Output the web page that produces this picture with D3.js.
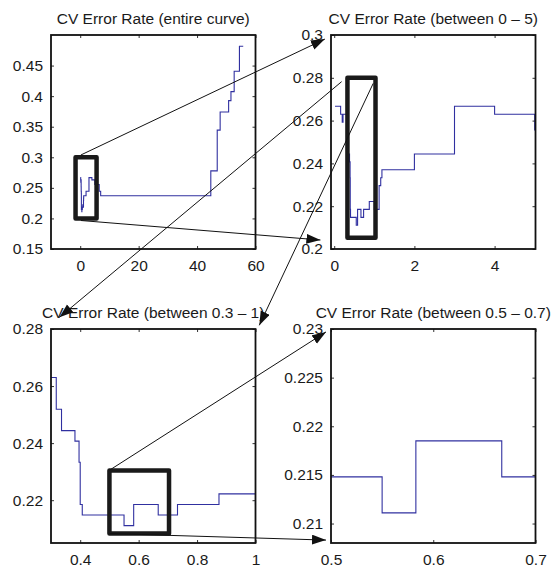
<!DOCTYPE html>
<html>
<head>
<meta charset="utf-8">
<script src="https://cdn.jsdelivr.net/npm/d3@7/dist/d3.min.js"></script>
<style>
    body { margin: 0; background: #fff; }
    text { font-family: "Liberation Sans", Arial, sans-serif; fill: #1a1a1a; }
</style>
</head>
<body>
<div id="chart"></div>
<script>
// CV error rate as a step curve: each step starts at stepX[i] with value stepY[i]
var stepX = [0.02, 0.16, 0.2, 0.22, 0.318, 0.336, 0.382, 0.396, 0.4, 0.407,
    0.55, 0.583, 0.667, 0.733, 0.875, 1.0, 1.12, 1.16, 1.19, 2.0,
    3.0, 4.0, 5.0, 6.5, 7.0, 44.7, 46.9, 47.9, 50.8, 51.6,
    52.7, 54.5, 55.8];
var stepY = [0.2667, 0.263, 0.2593, 0.263, 0.2519, 0.2444, 0.2407, 0.2333, 0.2185, 0.2148,
    0.2111, 0.2185, 0.2148, 0.2185, 0.2222, 0.2185, 0.2296, 0.2333, 0.237, 0.2444,
    0.2667, 0.263, 0.2556, 0.2444, 0.237, 0.2778, 0.3444, 0.3741, 0.3926, 0.4074,
    0.4407, 0.4815, 0.4815];

var panelTitles = [
    "CV Error Rate (entire curve)",
    "CV Error Rate (between 0 \u2013 5)",
    "CV Error Rate (between 0.3 \u2013 1)",
    "CV Error Rate (between 0.5 \u2013 0.7)"
];
var xDomains = [[-10, 60], [-0.08, 5.02], [0.3, 1], [0.5, 0.7]];
var yDomains = [[0.15, 0.5], [0.2, 0.3], [0.205, 0.28], [0.208, 0.23]];
var xTicks = [[0, 20, 40, 60], [0, 2, 4], [0.4, 0.6, 0.8, 1], [0.5, 0.6, 0.7]];
var yTicks = [
    [0.15, 0.2, 0.25, 0.3, 0.35, 0.4, 0.45],
    [0.2, 0.22, 0.24, 0.26, 0.28, 0.3],
    [0.22, 0.24, 0.26, 0.28],
    [0.21, 0.215, 0.22, 0.225, 0.23]
];

// zoom rectangles, in data units of the panel they sit in
var zoomPanels = [0, 1, 2];
var zoomX = [[-1.6, 5.6], [0.33, 1.03], [0.5, 0.704]];
var zoomY = [[0.2, 0.3], [0.2053, 0.28], [0.2083, 0.2304]];

// arrows: start in one panel's data units, tip in another panel's data units
var arrowFrom = [0, 0, 1, 1, 2, 2];
var arrowStart = [[0.24, 0.3038], [0.24, 0.1966], [0.185, 0.2782], [0.973, 0.2774], [0.5, 0.2305], [0.5, 0.2083]];
var arrowTo = [1, 1, 2, 2, 3, 3];
var arrowTip = [[-0.232, 0.2981], [-0.344, 0.2042], [0.329, 0.2841], [1.013, 0.2813], [0.4951, 0.2297], [0.4951, 0.2083]];

var vWidth = 555, vHeight = 569;
var vPanelW = 204.5, vPanelH = 214;
var vOrigins = [[51, 35], [331, 35], [51, 329], [331, 329]];
var vFont = 15.5;

var svg = d3.select("#chart")
    .append("svg")
    .attr("width", vWidth)
    .attr("height", vHeight);

var vPoints = stepX.map(function (aX, i) { return [aX, stepY[i]]; });

var vScales = vOrigins.map(function (aOrigin, i) {
    return {
        x: d3.scaleLinear().domain(xDomains[i]).range([aOrigin[0], aOrigin[0] + vPanelW]),
        y: d3.scaleLinear().domain(yDomains[i]).range([aOrigin[1] + vPanelH, aOrigin[1]])
    };
});

vScales.forEach(function (aScale, i) {
    var vLeft = vOrigins[i][0], vTop = vOrigins[i][1];
    var vBottom = vTop + vPanelH, vRight = vLeft + vPanelW;

    svg.append("clipPath")
        .attr("id", "clip" + i)
        .append("rect")
        .attr("x", vLeft).attr("y", vTop)
        .attr("width", vPanelW).attr("height", vPanelH);

    // curve
    var vLine = d3.line()
        .x(function (d) { return aScale.x(d[0]); })
        .y(function (d) { return aScale.y(d[1]); })
        .curve(d3.curveStepAfter);
    svg.append("path")
        .datum(vPoints)
        .attr("clip-path", "url(#clip" + i + ")")
        .attr("fill", "none")
        .attr("stroke", "#3030a0")
        .attr("stroke-width", 1.1)
        .attr("d", vLine);

    // axes with inward ticks on all sides
    var gB = svg.append("g")
        .attr("transform", "translate(0," + vBottom + ")")
        .call(d3.axisBottom(aScale.x).tickValues(xTicks[i]).tickSize(-3).tickPadding(11)
            .tickFormat(function (d) { return String(d); }));
    var gT = svg.append("g")
        .attr("transform", "translate(0," + vTop + ")")
        .call(d3.axisTop(aScale.x).tickValues(xTicks[i]).tickSize(-3).tickFormat(""));
    var gL = svg.append("g")
        .attr("transform", "translate(" + vLeft + ",0)")
        .call(d3.axisLeft(aScale.y).tickValues(yTicks[i]).tickSize(-3).tickPadding(8)
            .tickFormat(function (d) { return String(d); }));
    var gR = svg.append("g")
        .attr("transform", "translate(" + vRight + ",0)")
        .call(d3.axisRight(aScale.y).tickValues(yTicks[i]).tickSize(-3).tickFormat(""));
    [gB, gT, gL, gR].forEach(function (g) {
        g.select(".domain").remove();
        g.selectAll("line").attr("stroke", "#333");
        g.selectAll("text").attr("font-size", vFont).attr("fill", "#1a1a1a")
            .attr("font-family", "Liberation Sans, Arial, sans-serif");
    });

    svg.append("rect")
        .attr("x", vLeft).attr("y", vTop)
        .attr("width", vPanelW).attr("height", vPanelH)
        .attr("fill", "none")
        .attr("stroke", "#111")
        .attr("stroke-width", 1.8);

    svg.append("text")
        .attr("x", (vLeft + vRight) / 2)
        .attr("y", vTop - 11)
        .attr("text-anchor", "middle")
        .attr("font-size", vFont)
        .text(panelTitles[i]);
});

// zoom boxes
zoomPanels.forEach(function (aPanel, i) {
    var s = vScales[aPanel];
    svg.append("rect")
        .attr("x", s.x(zoomX[i][0]))
        .attr("y", s.y(zoomY[i][1]))
        .attr("width", s.x(zoomX[i][1]) - s.x(zoomX[i][0]))
        .attr("height", s.y(zoomY[i][0]) - s.y(zoomY[i][1]))
        .attr("fill", "none")
        .attr("stroke", "#1a1a1a")
        .attr("stroke-width", 4.5)
        .attr("stroke-linejoin", "round");
});

// arrows
svg.append("defs").append("marker")
    .attr("id", "head")
    .attr("markerUnits", "userSpaceOnUse")
    .attr("markerWidth", 15).attr("markerHeight", 11)
    .attr("refX", 14).attr("refY", 5)
    .attr("orient", "auto")
    .append("path")
    .attr("d", "M0,0L14,5L0,10Z")
    .attr("fill", "#111");

arrowFrom.forEach(function (aFrom, i) {
    var s0 = vScales[aFrom], s1 = vScales[arrowTo[i]];
    svg.append("line")
        .attr("x1", s0.x(arrowStart[i][0]))
        .attr("y1", s0.y(arrowStart[i][1]))
        .attr("x2", s1.x(arrowTip[i][0]))
        .attr("y2", s1.y(arrowTip[i][1]))
        .attr("stroke", "#111")
        .attr("stroke-width", 1)
        .attr("marker-end", "url(#head)");
});
</script>
</body>
</html>
